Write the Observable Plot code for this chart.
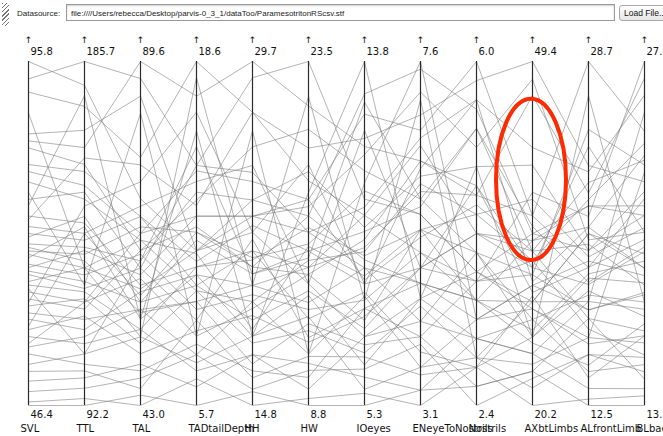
<!DOCTYPE html>
<html>
<head>
<meta charset="utf-8">
<script src="https://cdn.jsdelivr.net/npm/d3@7"></script>
<script src="https://cdn.jsdelivr.net/npm/@observablehq/plot@0.6"></script>
<style>
  html, body { margin: 0; padding: 0; background: #fff; overflow: hidden; width: 663px; height: 436px; }
  #bar { position: relative; width: 663px; height: 28px; font-family: "Liberation Sans", Arial, sans-serif; }
  #grip { position: absolute; left: 2px; top: 3px; width: 7px; height: 23px;
    background: repeating-linear-gradient(135deg, #777 0 1px, #fff 1px 3px); }
  #lbl { position: absolute; left: 17px; top: 9px; font-size: 8px; color: #222; }
  #src { position: absolute; left: 66px; top: 4px; width: 549px; height: 17px; border: 1px solid #9a9a9a;
    box-shadow: inset 0 1px 2px rgba(0,0,0,0.2); font-size: 8px; line-height: 17px; padding-left: 4px; box-sizing: border-box; color: #222; }
  #btn { position: absolute; left: 619px; top: 5px; width: 52px; height: 16px; border: 1px solid #a8a8a8; border-radius: 3px;
    background: linear-gradient(#fff, #e6e6e6); font-size: 8.5px; line-height: 15px; padding-left: 4px; box-sizing: border-box; color: #111; white-space: nowrap; }
  #chart svg { display: block; }
</style>
</head>
<body>
<div id="bar">
  <div id="grip"></div>
  <div id="lbl">Datasource:</div>
  <div id="src">file:////Users/rebecca/Desktop/parvis-0_3_1/dataToo/ParamesotritonRScsv.stf</div>
  <div id="btn">Load File...</div>
</div>
<div id="chart"></div>
<script>
// Axis names and their min / max tick labels
const dims = ["SVL","TTL","TAL","TADtailDepth","HH","HW","IOeyes","ENeyeToNostrils","Nostrils","AXbtLimbs","ALfrontLimb","BLbackLimb"];
const mins = [46.4, 92.2, 43.0, 5.7, 14.8, 8.8, 5.3, 3.1, 2.4, 20.2, 12.5, 13.1];
const maxs = [95.8, 185.7, 89.6, 18.6, 29.7, 23.5, 13.8, 7.6, 6.0, 49.4, 28.7, 27.4];

// One array per variable, one entry per specimen
const svl = [95.8, 93.3, 91.4, 85.4, 84.4, 83.4, 81.0, 80.0, 78.5, 76.0, 73.6, 72.1, 71.1, 70.6, 69.6, 69.1, 68.6, 68.1, 67.6, 66.7, 66.2, 65.7, 65.2, 64.2, 63.7, 62.7, 61.7, 60.7, 59.7, 58.8, 57.3, 56.3, 54.8, 53.8, 52.3, 51.3, 49.9, 48.4, 46.9, 46.4, 88.4, 75.1, 77.0, 61.2, 57.8, 73.1, 63.2, 55.3];
const ttl = [179.2, 185.7, 173.5, 167.0, 162.3, 157.7, 155.8, 152.0, 148.3, 150.2, 141.8, 139.0, 137.1, 143.6, 135.2, 131.5, 133.3, 129.6, 140.8, 127.7, 134.3, 125.9, 124.0, 129.6, 123.1, 120.3, 118.4, 121.2, 115.6, 112.8, 116.5, 109.0, 110.9, 103.4, 106.2, 101.6, 99.7, 96.9, 94.1, 92.2, 129.6, 176.4, 124.9, 146.4, 139.0, 159.5, 106.2, 120.3];
const tal = [71.0, 87.3, 76.6, 84.9, 89.6, 64.0, 68.6, 66.3, 65.4, 61.6, 59.3, 57.9, 68.6, 57.0, 62.6, 55.6, 67.2, 58.8, 54.7, 63.5, 60.7, 57.0, 61.6, 65.4, 53.3, 60.2, 64.0, 51.4, 56.0, 58.4, 50.0, 53.3, 56.0, 47.7, 52.3, 45.3, 48.6, 46.7, 43.0, 44.4, 52.3, 54.7, 82.6, 73.3, 70.0, 75.6, 62.6, 66.3];
const tad = [11.5, 14.7, 18.6, 11.5, 17.3, 13.4, 10.2, 12.8, 10.0, 14.7, 10.9, 12.2, 11.1, 11.9, 13.7, 9.6, 12.2, 11.5, 10.6, 9.3, 12.8, 10.2, 8.9, 11.4, 10.9, 8.3, 12.4, 10.0, 7.6, 10.6, 8.5, 7.0, 9.6, 8.0, 7.3, 8.9, 6.4, 7.6, 6.7, 5.7, 18.0, 16.0, 8.3, 16.7, 14.1, 13.2, 15.4, 14.5];
const hh  = [23.7, 29.0, 27.5, 23.0, 29.7, 26.0, 21.5, 23.0, 19.3, 24.9, 21.1, 20.8, 22.6, 20.5, 23.7, 20.0, 21.2, 22.3, 20.0, 19.6, 23.0, 18.5, 22.0, 18.1, 21.5, 19.0, 20.8, 17.5, 19.3, 17.8, 18.7, 17.0, 16.6, 16.3, 17.8, 16.0, 17.0, 15.5, 14.8, 15.4, 20.0, 17.8, 26.7, 22.3, 25.2, 27.5, 20.5, 24.5];
const hw  = [16.9, 23.5, 19.8, 17.6, 21.6, 20.6, 14.7, 17.3, 15.0, 16.2, 16.4, 14.4, 15.4, 15.4, 18.8, 13.2, 15.7, 14.0, 14.7, 12.9, 16.2, 13.7, 11.7, 15.6, 12.5, 14.4, 16.9, 12.0, 11.0, 13.5, 11.5, 10.6, 12.3, 10.0, 12.6, 10.9, 9.5, 10.3, 9.1, 8.8, 22.0, 17.9, 11.0, 19.1, 14.0, 18.4, 15.1, 17.6];
const io  = [13.0, 10.4, 11.9, 12.5, 11.7, 11.1, 10.0, 11.5, 9.1, 10.2, 9.0, 9.4, 9.6, 8.3, 9.7, 8.7, 10.6, 7.0, 9.2, 7.9, 8.7, 7.2, 7.7, 8.5, 8.1, 7.4, 8.9, 6.6, 8.0, 6.3, 7.5, 6.0, 6.8, 7.7, 5.7, 6.5, 7.0, 6.2, 5.6, 5.3, 7.9, 13.8, 10.8, 8.3, 12.1, 10.0, 12.8, 8.4];
const en  = [7.5, 5.6, 6.9, 6.7, 6.3, 5.8, 5.1, 7.2, 6.0, 6.6, 5.4, 6.3, 5.7, 4.9, 6.1, 4.7, 5.6, 4.5, 5.9, 5.1, 4.2, 4.9, 4.0, 5.4, 3.8, 5.4, 4.7, 4.4, 3.6, 4.5, 4.9, 3.3, 4.0, 4.7, 3.6, 3.5, 4.2, 3.9, 3.1, 3.3, 7.1, 4.5, 7.6, 6.2, 4.9, 6.5, 5.8, 5.3];
const nos = [5.5, 3.8, 5.8, 6.0, 4.6, 4.0, 3.7, 5.1, 4.4, 5.6, 3.5, 4.7, 5.3, 4.2, 4.9, 3.3, 3.8, 3.1, 4.6, 3.5, 4.0, 4.2, 3.7, 4.4, 2.8, 4.0, 3.5, 2.9, 3.3, 3.8, 3.7, 3.1, 2.6, 3.5, 2.9, 2.8, 3.1, 2.4, 2.8, 2.6, 2.9, 4.9, 3.3, 5.6, 4.7, 4.2, 5.3, 4.5];
const ax  = [34.8, 29.0, 49.4, 36.3, 46.5, 31.3, 38.3, 47.9, 32.5, 30.7, 26.6, 29.8, 33.3, 31.9, 40.6, 30.4, 34.8, 24.6, 36.3, 29.0, 27.5, 33.3, 31.3, 37.7, 26.0, 26.0, 34.2, 23.7, 30.4, 28.4, 32.5, 27.5, 23.1, 25.5, 21.7, 29.5, 24.6, 22.5, 20.2, 23.1, 29.0, 26.0, 28.4, 42.1, 31.9, 34.2, 35.4, 33.3];
const al  = [19.8, 20.6, 23.8, 28.7, 22.5, 25.5, 21.4, 20.3, 22.2, 20.9, 18.7, 19.0, 20.1, 18.2, 19.8, 19.3, 21.9, 17.4, 19.0, 20.6, 17.7, 16.6, 17.0, 19.5, 17.9, 18.5, 20.9, 15.7, 17.0, 15.4, 16.1, 14.1, 16.6, 14.4, 14.9, 13.8, 13.3, 14.9, 12.8, 12.5, 17.4, 27.1, 15.7, 23.5, 24.7, 21.9, 18.3, 23.0];
const bl  = [21.0, 18.8, 22.4, 24.5, 26.7, 23.1, 27.4, 20.3, 24.0, 23.5, 19.1, 21.7, 18.1, 19.5, 22.0, 18.5, 21.0, 17.1, 20.0, 19.4, 17.4, 16.2, 17.8, 20.5, 16.8, 18.2, 18.8, 15.7, 17.7, 16.0, 15.2, 14.8, 14.2, 16.5, 14.5, 16.0, 13.8, 15.1, 13.5, 13.1, 25.3, 17.4, 22.8, 26.0, 20.3, 21.4, 19.7, 23.3];

// Highlighted range (red ellipse) on one axis, in that axis' units
const highlightDim = "AXbtLimbs";
const highlightFrom = 32.5;
const highlightTo = 46.2;

const series = [svl, ttl, tal, tad, hh, hw, io, en, nos, ax, al, bl];

// Long table: each axis normalised to its own min/max
const rows = [];
svl.forEach((_, i) => {
  dims.forEach((dim, j) => {
    rows.push({id: i, dim, v: (series[j][i] - mins[j]) / (maxs[j] - mins[j])});
  });
});
const axes = dims.map((dim, j) => ({dim, min: mins[j].toFixed(1), max: maxs[j].toFixed(1)}));

const font = "DejaVu Sans, Verdana, sans-serif";
const plot = Plot.plot({
  width: 663,
  height: 408,
  marginLeft: 24,
  marginRight: 15,
  marginTop: 33,
  marginBottom: 31,
  style: {background: "white", fontFamily: font, color: "#111", overflow: "visible"},
  x: {type: "point", domain: dims, padding: 0, axis: null},
  y: {domain: [0, 1], axis: null},
  marks: [
    Plot.line(rows, {x: "dim", y: "v", z: "id", stroke: "#777", strokeOpacity: 0.55, strokeWidth: 1, curve: "linear"}),
    Plot.ruleX(axes, {x: "dim", y1: () => 0, y2: () => 1, stroke: "#2a2a2a", strokeWidth: 1.2}),
    Plot.text(axes, {x: "dim", y: () => 1, text: () => "↑", dy: -21, fontSize: 9, fill: "#111"}),
    Plot.text(axes, {x: "dim", y: () => 1, text: "max", dy: -10, dx: 2, textAnchor: "start", fontSize: 10, fill: "#111"}),
    Plot.text(axes, {x: "dim", y: () => 0, text: "min", dy: 9, dx: 2, textAnchor: "start", fontSize: 10, fill: "#111"}),
    Plot.text(axes, {x: "dim", y: () => 0, text: "dim", dy: 23, dx: -8, textAnchor: "start", fontSize: 10, fill: "#111"})
  ]
});

// Red ellipse annotation, placed through the plot's own scales
const xs = plot.scale("x"), ys = plot.scale("y");
const hj = dims.indexOf(highlightDim);
const nFrom = (highlightFrom - mins[hj]) / (maxs[hj] - mins[hj]);
const nTo = (highlightTo - mins[hj]) / (maxs[hj] - mins[hj]);
const yTop = ys.apply(nTo), yBot = ys.apply(nFrom);
d3.select(plot).append("ellipse")
  .attr("cx", xs.apply(highlightDim) - 1)
  .attr("cy", (yTop + yBot) / 2)
  .attr("rx", 35)
  .attr("ry", (yBot - yTop) / 2)
  .attr("fill", "none")
  .attr("stroke", "#ff2a00")
  .attr("stroke-width", 4);

document.getElementById("chart").appendChild(plot);
</script>
</body>
</html>
